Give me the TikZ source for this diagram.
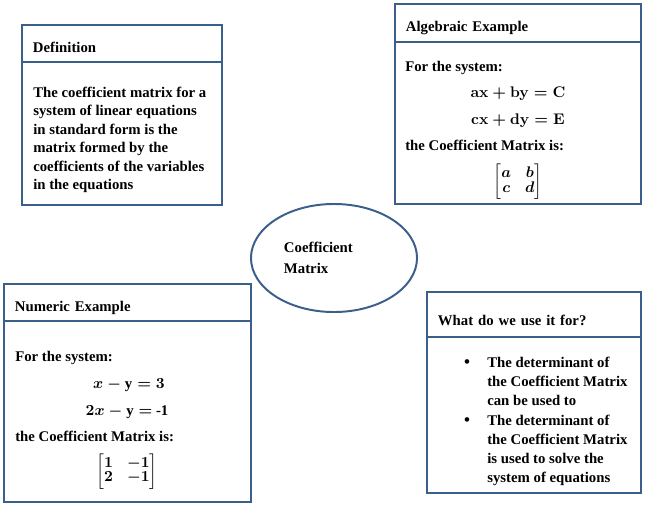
\documentclass[tikz,border=0pt]{standalone}
\usepackage{amsmath,amssymb}
\usepackage{fontspec}
\setmainfont{Liberation Serif}
\usepackage{tikz}
\usepackage{xcolor}
\usetikzlibrary{positioning,shapes.geometric}
\definecolor{frame}{HTML}{3A5F8B}
\newsavebox{\algcoef}
\newsavebox{\numcoef}

\begin{document}
\boldmath
\renewcommand{\arraystretch}{0.8}
\sbox{\algcoef}{\fontsize{10.5}{13.2}\selectfont$\biggl[\begin{array}{@{}cc@{}} a & b\\ c & d \end{array}\biggr]$}%
\sbox{\numcoef}{\fontsize{10.5}{13.2}\selectfont$\biggl[\begin{array}{@{}cc@{}} 1 & -1\\ 2 & -1 \end{array}\biggr]$}%
\begin{tikzpicture}[
      x=0.025cm, y=-0.025cm,
      txt/.style={inner sep=0pt, font=\fontsize{10.5}{13.2}\selectfont\bfseries, align=left},
      mat/.style={inner sep=0pt},
      head/.style={draw=frame, line width=1.4pt, inner xsep=0.275cm, outer sep=0pt, align=left,
        text height=13.5pt, text depth=1pt, font=\fontsize{10.5}{13.2}\selectfont\bfseries},
      panel/.style={draw=frame, line width=1.4pt, outer sep=0pt, inner sep=0pt},
      hub/.style={ellipse, draw=frame, line width=1.4pt, minimum width=4.15cm, minimum height=2.7cm,
        text width=2.5cm, align=left, font=\fontsize{10.5}{15}\selectfont\bfseries}
  ]
    \useasboundingbox (0,0) rectangle (645,508);

    \node[head, text width=4.45cm, minimum height=0.925cm] (defhead) at (122,43.5) {Definition};
    \node[panel, minimum width=5cm, minimum height=3.575cm, below=0pt of defhead] (defbody) {};
    \node[txt, anchor=north west] (deftext) at (33,86.5) {The coefficient matrix for a\\system of linear equations\\in standard form is the\\matrix formed by the\\coefficients of the variables\\in the equations};

    \node[head, text width=5.6cm, minimum height=0.95cm] (alghead) at (518,23) {Algebraic Example};
    \node[panel, minimum width=6.15cm, minimum height=4.05cm, below=0pt of alghead] (algbody) {};
    \node[txt, anchor=base west] (algintro) at (405,71) {For the system:};
    \node[txt, anchor=base] (algeqa) at (518,97) {$\mathbf{ax + by = C}$};
    \node[txt, anchor=base] (algeqb) at (518,124) {$\mathbf{cx + dy = E}$};
    \node[txt, anchor=base west] (algoutro) at (405,150) {the Coefficient Matrix is:};
    \node[mat] (algmat) at (518,181.5) {\usebox{\algcoef}};

    \node[hub] (hub) at (334,258) {Coefficient\\Matrix};

    \node[head, text width=5.625cm, minimum height=0.925cm] (numhead) at (127.5,302.5) {Numeric Example};
    \node[panel, minimum width=6.175cm, minimum height=4.525cm, below=0pt of numhead] (numbody) {};
    \node[txt, anchor=base west] (numintro) at (15,361) {For the system:};
    \node[txt, anchor=base] (numeqa) at (129,388) {$x - \mathrm{y} = 3$};
    \node[txt, anchor=base] (numeqb) at (127,415) {$2x - \mathrm{y} = $ -1};
    \node[txt, anchor=base west] (numoutro) at (15,441) {the Coefficient Matrix is:};
    \node[mat] (nummat) at (127,471.5) {\usebox{\numcoef}};

    \node[head, text width=4.8cm, minimum height=1.125cm, text height=16pt] (usehead) at (534,314.5) {What do we use it for?};
    \node[panel, minimum width=5.35cm, minimum height=3.9cm, below=0pt of usehead] (usebody) {};
    \node[txt, anchor=base] (dota) at (467,367) {\large\textbullet};
    \node[txt, anchor=north west, font=\fontsize{10.5}{13.5}\selectfont\bfseries] (usea) at (487,356.5) {The determinant of\\the Coefficient Matrix\\can be used to};
    \node[txt, anchor=base] (dotb) at (467,425) {\large\textbullet};
    \node[txt, anchor=north west, font=\fontsize{10.5}{13.5}\selectfont\bfseries] (useb) at (487,414.5) {The determinant of\\the Coefficient Matrix\\is used to solve the\\system of equations};
  \end{tikzpicture}
\end{document}
